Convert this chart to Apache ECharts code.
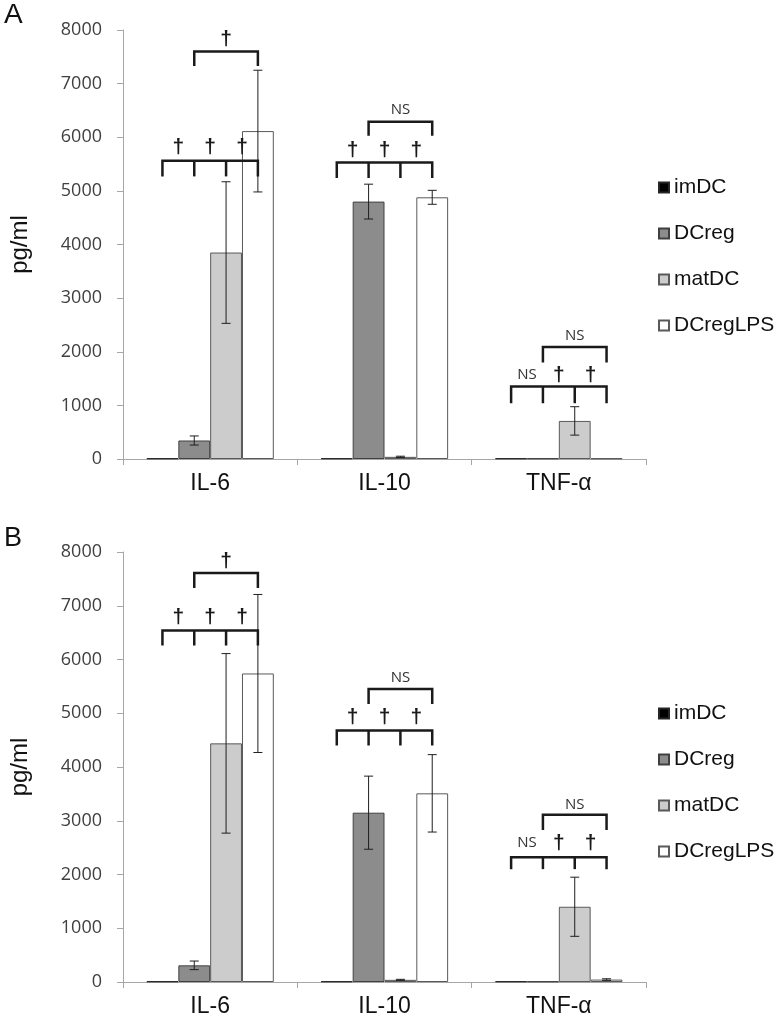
<!DOCTYPE html>
<html>
<head>
<meta charset="utf-8">
<script src="https://cdn.jsdelivr.net/npm/echarts@6/dist/echarts.min.js"></script>
<style>
  html, body { margin: 0; padding: 0; background: #fff; }
  #chart { width: 774px; height: 1020px; }
</style>
</head>
<body>
<div id="chart"></div>
<script>
// ---------- data ----------
const categories = ['IL-6', 'IL-10', 'TNF-α'];
const groupNames = ['imDC', 'DCreg', 'matDC', 'DCregLPS'];

// Panel A (means, pg/ml)
const imDC_A = [12, 12, 12];
const DCreg_A = [345, 4800, 12];
const matDC_A = [3850, 40, 710];
const DCregLPS_A = [6115, 4880, 12];
// Panel A (error)
const imDC_A_err = [0, 0, 0];
const DCreg_A_err = [85, 325, 0];
const matDC_A_err = [1320, 12, 265];
const DCregLPS_A_err = [1135, 130, 0];

// Panel B (means, pg/ml)
const imDC_B = [12, 12, 12];
const DCreg_B = [310, 3150, 12];
const matDC_B = [4440, 40, 1400];
const DCregLPS_B = [5740, 3510, 45];
// Panel B (error)
const imDC_B_err = [0, 0, 0];
const DCreg_B_err = [80, 680, 0];
const matDC_B_err = [1670, 10, 550];
const DCregLPS_B_err = [1470, 720, 15];

// significance brackets (levels in pg/ml)
const lowBarA = [5560, 5530, 1350];
const lowLegA = [5270, 5240, 1040];
const lowTextA = [5820, 5750, 1570];
const highBarA = [7600, 6290, 2090];
const highLegA = [7330, 6030, 1800];
const highTextA = [7820, 6510, 2300];

const lowBarB = [6540, 4680, 2320];
const lowLegB = [6260, 4400, 2100];
const lowTextB = [6780, 4920, 2590];
const highBarB = [7610, 5450, 3110];
const highLegB = [7330, 5170, 2830];
const highTextB = [7830, 5660, 3300];

const lowLabels = [['†', '†', '†'], ['†', '†', '†'], ['NS', '†', '†']];
const highLabels = ['†', 'NS', 'NS'];

const yMax = 8000;
const yInterval = 1000;

// ---------- styles ----------
const fills = ['#000000', '#8c8c8c', '#cccccc', '#ffffff'];
const borders = ['#262626', '#404040', '#595959', '#595959'];
const CAT_GAP = 0.27;

const panelA = {
  means: [imDC_A, DCreg_A, matDC_A, DCregLPS_A],
  errs: [imDC_A_err, DCreg_A_err, matDC_A_err, DCregLPS_A_err],
  br: [lowBarA, lowLegA, lowTextA, highBarA, highLegA, highTextA]
};
const panelB = {
  means: [imDC_B, DCreg_B, matDC_B, DCregLPS_B],
  errs: [imDC_B_err, DCreg_B_err, matDC_B_err, DCregLPS_B_err],
  br: [lowBarB, lowLegB, lowTextB, highBarB, highLegB, highTextB]
};

function barCenter(api, cat, idx) {
  const c = api.coord([cat, 0])[0];
  const band = api.size([1, 0])[0];
  const bw = band * (1 - CAT_GAP) / 4;
  return c + (idx - 1.5) * bw;
}

function makeSeries(panel, gi) {
  const out = [];
  groupNames.forEach((name, i) => {
    out.push({
      type: 'bar', name: name, xAxisIndex: gi, yAxisIndex: gi,
      data: panel.means[i],
      barCategoryGap: (CAT_GAP * 100) + '%', barGap: '0%',
      itemStyle: { color: fills[i], borderColor: borders[i], borderWidth: 1 },
      emphasis: { disabled: true }, animation: false, z: 2
    });
  });
  groupNames.forEach((name, i) => {
    const data = categories.map((c, k) => [k, panel.means[i][k], panel.errs[i][k]]);
    out.push({
      type: 'custom', xAxisIndex: gi, yAxisIndex: gi, z: 5, animation: false, silent: true,
      data: data,
      renderItem: function (params, api) {
        const cat = api.value(0), v = api.value(1), e = api.value(2);
        if (!e) return null;
        const x = barCenter(api, cat, i);
        const yT = api.coord([cat, v + e])[1];
        const yB = api.coord([cat, v - e])[1];
        const st = { stroke: '#1f1f1f', lineWidth: 1 };
        return { type: 'group', children: [
          { type: 'line', shape: { x1: x, y1: yT, x2: x, y2: yB }, style: st },
          { type: 'line', shape: { x1: x - 4.5, y1: yT, x2: x + 4.5, y2: yT }, style: st },
          { type: 'line', shape: { x1: x - 4.5, y1: yB, x2: x + 4.5, y2: yB }, style: st }
        ]};
      }
    });
  });
  // brackets
  const bdata = categories.map((c, k) => [k].concat(panel.br.map(a => a[k])));
  out.push({
    type: 'custom', xAxisIndex: gi, yAxisIndex: gi, z: 6, animation: false, silent: true,
    data: bdata,
    renderItem: function (params, api) {
      const cat = api.value(0);
      const lowY = api.coord([cat, api.value(1)])[1];
      const lowLegY = api.coord([cat, api.value(2)])[1];
      const lowTY = api.coord([cat, api.value(3)])[1];
      const hiY = api.coord([cat, api.value(4)])[1];
      const hiLegY = api.coord([cat, api.value(5)])[1];
      const hiTY = api.coord([cat, api.value(6)])[1];
      const xs = [0, 1, 2, 3].map(j => barCenter(api, cat, j));
      const ls = { stroke: '#1a1a1a', lineWidth: 2.5 };
      const ch = [];
      ch.push({ type: 'polyline', shape: { points: [[xs[0], lowLegY], [xs[0], lowY], [xs[3], lowY], [xs[3], lowLegY]] }, style: Object.assign({ fill: null }, ls) });
      ch.push({ type: 'line', shape: { x1: xs[1], y1: lowY, x2: xs[1], y2: lowLegY }, style: ls });
      ch.push({ type: 'line', shape: { x1: xs[2], y1: lowY, x2: xs[2], y2: lowLegY }, style: ls });
      ch.push({ type: 'polyline', shape: { points: [[xs[1], hiLegY], [xs[1], hiY], [xs[3], hiY], [xs[3], hiLegY]] }, style: Object.assign({ fill: null }, ls) });
      const labStyle = (t) => t === 'NS'
        ? { fontSize: 15, fontFamily: 'Open Sans', fill: '#333' }
        : { fontSize: 21, fontWeight: 'bold', fontFamily: 'Liberation Sans', fill: '#1a1a1a' };
      for (let j = 0; j < 3; j++) {
        const t = lowLabels[cat][j];
        ch.push({ type: 'text', style: Object.assign({ text: t, x: (xs[j] + xs[j + 1]) / 2, y: lowTY, align: 'center', verticalAlign: 'middle' }, labStyle(t)) });
      }
      const ht = highLabels[cat];
      ch.push({ type: 'text', style: Object.assign({ text: ht, x: (xs[1] + xs[3]) / 2, y: hiTY, align: 'center', verticalAlign: 'middle' }, labStyle(ht)) });
      return { type: 'group', children: ch };
    }
  });
  return out;
}

const grids = [
  { left: 122, top: 30, width: 524, height: 429 },
  { left: 122, top: 552, width: 524, height: 430 }
];

function xAxisCfg(gi) {
  return {
    type: 'category', gridIndex: gi, data: categories,
    axisLine: { lineStyle: { color: '#a6a6a6', width: 1 } },
    axisTick: { show: true, alignWithLabel: false, length: 6, lineStyle: { color: '#a6a6a6' } },
    axisLabel: { fontSize: 23, color: '#111', fontFamily: 'Liberation Sans', margin: 13 }
  };
}
function yAxisCfg(gi) {
  return {
    type: 'value', gridIndex: gi, min: 0, max: yMax, interval: yInterval,
    name: 'pg/ml', nameLocation: 'middle', nameGap: 91,
    nameTextStyle: { fontSize: 24, color: '#111', fontFamily: 'Liberation Sans' },
    axisLine: { show: true, lineStyle: { color: '#a6a6a6', width: 1 } },
    axisTick: { show: true, length: 6, lineStyle: { color: '#a6a6a6' } },
    splitLine: { show: false },
    axisLabel: { fontSize: 18, color: '#404040', fontFamily: 'Open Sans', margin: 21,
      formatter: (v) => String(v) }
  };
}
function legendCfg(top) {
  return {
    orient: 'vertical', left: 653, top: top, data: groupNames,
    icon: 'rect', itemWidth: 10, itemHeight: 10, itemGap: 25,
    selectedMode: false,
    textStyle: { fontSize: 21, lineHeight: 20, color: '#111', fontFamily: 'Liberation Sans', padding: [0, 0, 0, 0] }
  };
}

const chart = echarts.init(document.getElementById('chart'), null, { renderer: 'canvas' });
chart.setOption({
  backgroundColor: '#ffffff',
  animation: false,
  grid: grids,
  xAxis: [xAxisCfg(0), xAxisCfg(1)],
  yAxis: [yAxisCfg(0), yAxisCfg(1)],
  legend: [legendCfg(172), legendCfg(698)],
  graphic: [
    { type: 'text', left: 4, top: 1, style: { text: 'A', fontSize: 28, fontFamily: 'Liberation Sans', fill: '#111' } },
    { type: 'text', left: 4, top: 525, style: { text: 'B', fontSize: 27, fontFamily: 'Liberation Sans', fill: '#111' } }
  ],
  series: makeSeries(panelA, 0).concat(makeSeries(panelB, 1))
});
</script>
</body>
</html>
